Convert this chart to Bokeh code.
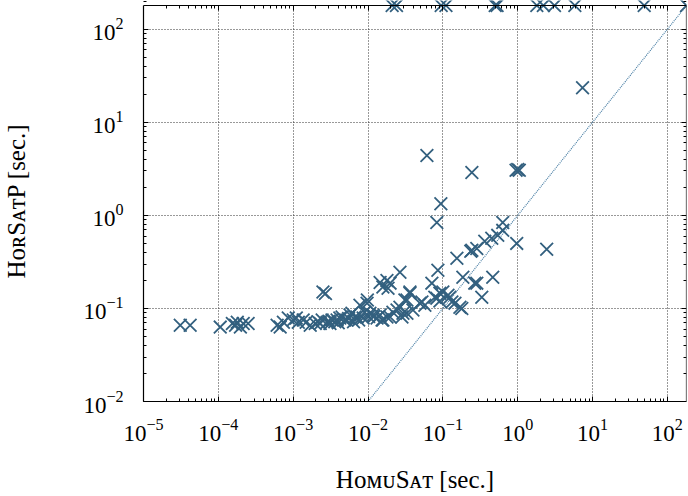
from bokeh.plotting import figure
from bokeh.models import LogAxis, FixedTicker, Range1d
from bokeh.embed import file_html
from bokeh.resources import INLINE

# HomuSat runtime [sec.] (x) vs HorSatP runtime [sec.] (y); 180 = timeout
homusat = [
    3.1e-5, 4.2e-5, 1.06e-4, 1.54e-4, 1.7e-4, 1.79e-4, 1.97e-4, 2.15e-4, 2.5e-4,
    6.1e-4, 6.7e-4, 7.4e-4, 8.6e-4, 1.0e-3, 1.1e-3, 1.17e-3, 1.36e-3, 1.49e-3,
    1.69e-3, 1.97e-3, 2.15e-3, 2.3e-3, 2.44e-3, 2.5e-3, 2.7e-3, 2.84e-3, 3.0e-3,
    3.1e-3, 3.3e-3, 3.6e-3, 3.86e-3, 4.0e-3, 4.2e-3, 4.5e-3, 4.9e-3, 5.2e-3,
    5.5e-3, 5.75e-3, 6.1e-3, 6.4e-3, 6.7e-3, 7.1e-3, 7.5e-3, 7.8e-3, 8.6e-3,
    9.0e-3, 9.7e-3, 0.0102, 0.0106, 0.0117, 0.012,
    0.0145, 0.0158, 0.0179, 0.0185, 0.0197, 0.0267, 0.0363, 0.0525, 0.0311,
    0.0267, 0.0215, 0.0179, 0.0154, 0.0098, 0.0132, 0.0158, 0.0197, 0.0244,
    0.0293, 0.0331, 0.0398, 0.0494, 0.0575, 0.0284, 0.0363, 0.0331, 0.0145,
    0.0858, 0.0713, 0.0912, 0.117, 0.083, 0.132, 0.169, 0.1, 0.124, 0.145,
    0.179, 0.154, 0.185, 0.464, 0.284, 0.331, 0.267, 0.236, 0.244, 0.284,
    0.363, 0.45, 0.541, 0.631, 0.631, 0.97, 2.44, 0.083, 0.094, 0.0612,
    0.244, 0.95, 1.0, 1.05, 7.35, 0.078, 0.0912,
    0.021, 0.024, 0.095, 0.11, 0.5, 0.53, 1.8, 2.2, 3.1, 5.8, 49.0, 180.0,
]
horsatp = [
    0.066, 0.066, 0.063, 0.069, 0.066, 0.071, 0.063, 0.069, 0.069,
    0.066, 0.063, 0.071, 0.079, 0.075, 0.079, 0.071, 0.075, 0.071,
    0.066, 0.069, 0.072, 0.069, 0.075, 0.15, 0.145, 0.071, 0.073,
    0.069, 0.075, 0.072, 0.075, 0.07, 0.079, 0.081, 0.075, 0.075,
    0.078, 0.085, 0.089, 0.072, 0.081, 0.081, 0.075, 0.108, 0.079,
    0.091, 0.114, 0.082, 0.089, 0.085, 0.082,
    0.19, 0.17, 0.2, 0.165, 0.187, 0.245, 0.15, 0.117, 0.123,
    0.103, 0.091, 0.081, 0.075, 0.123, 0.079, 0.075, 0.081, 0.096,
    0.089, 0.089, 0.096, 0.114, 0.108, 0.081, 0.146, 0.123, 0.085,
    0.257, 0.187, 0.146, 0.139, 0.129, 0.117, 0.103, 0.15, 0.132, 0.114,
    0.1, 0.346, 0.216, 0.216, 0.187, 0.132, 0.187, 0.411, 0.421, 0.44,
    0.526, 0.567, 0.61, 0.69, 0.84, 0.5, 0.432, 0.84, 1.33, 4.4,
    2.89, 3.05, 3.11, 3.05, 23.5, 0.132, 0.12,
    180.0, 180.0, 180.0, 180.0, 180.0, 180.0, 180.0, 180.0, 180.0, 180.0, 180.0, 180.0,
]

timeout = 180.0
x_min, y_min = 1e-5, 1e-2
x_exponents = [-5, -4, -3, -2, -1, 0, 1, 2]
y_exponents = [-2, -1, 0, 1, 2]

mark_color = "#33607f"
serif = "Liberation Serif"

x_major = [10.0 ** e for e in x_exponents]
y_major = [10.0 ** e for e in y_exponents]
x_minor = [m * 10.0 ** e for e in x_exponents for m in range(2, 10)]
y_minor = [m * 10.0 ** e for e in y_exponents for m in range(2, 10)]

p = figure(width=688, height=496, x_axis_type="log", y_axis_type="log",
           x_range=Range1d(x_min, timeout), y_range=Range1d(y_min, 203.7),
           output_backend="svg", toolbar_location=None,
           min_border_left=143, min_border_right=2, min_border_top=0,
           min_border_bottom=95)
p.outline_line_color = None
p.background_fill_color = "white"
p.border_fill_color = "white"

def style_axis(ax, labels=True):
    ax.major_tick_in = 5
    ax.major_tick_out = 0
    ax.minor_tick_in = 3
    ax.minor_tick_out = 0
    ax.axis_line_color = "black"
    ax.axis_line_width = 1.2
    ax.major_tick_line_color = "black"
    ax.minor_tick_line_color = "black"
    ax.major_label_text_font = serif
    ax.major_label_text_font_size = "23px"
    ax.major_label_text_color = "black" if labels else None
    ax.axis_label_text_font = serif
    ax.axis_label_text_font_size = "25px"
    ax.axis_label_text_font_style = "normal"
    ax.axis_label_text_color = "black"

xa = p.xaxis[0]
ya = p.yaxis[0]
xa.ticker = FixedTicker(ticks=x_major, minor_ticks=x_minor)
ya.ticker = FixedTicker(ticks=y_major, minor_ticks=y_minor)
style_axis(xa)
style_axis(ya)
ya.bounds = (y_min, timeout)
xa.axis_label = "Hᴏᴍᴜ" + "Sᴀᴛ [sec.]"
ya.axis_label = "Hᴏʀ" + "SᴀᴛP [sec.]"
xa.major_label_standoff = 17
ya.major_label_standoff = 20
xa.axis_label_standoff = 22
ya.axis_label_standoff = 50

top = LogAxis(fixed_location=timeout, ticker=FixedTicker(ticks=x_major, minor_ticks=x_minor),
              bounds=(x_min, timeout))
right = LogAxis(fixed_location=timeout, ticker=FixedTicker(ticks=y_major, minor_ticks=y_minor),
                bounds=(y_min, timeout))
style_axis(top, labels=False)
style_axis(right, labels=False)
p.add_layout(top, "above")
p.add_layout(right, "right")

for g in (p.xgrid[0], p.ygrid[0]):
    g.grid_line_color = "#333333"
    g.grid_line_dash = "1 2"
    g.grid_line_width = 1
p.xgrid[0].ticker = FixedTicker(ticks=x_major)
p.ygrid[0].ticker = FixedTicker(ticks=y_major)

# white mask above the timeout line (hides grid overflow)
p.quad(left=[x_min], right=[timeout], bottom=[timeout], top=[1000.0],
       fill_color="white", line_color=None)

# y = x reference line
diag = [y_min, timeout]
p.line(diag, diag, line_color="#4a7fa5", line_width=1.2, line_dash="1 1")

p.scatter(homusat, horsatp, marker="x", size=18, line_color=mark_color, line_width=1.8)

open("out.html", "w").write(file_html(p, INLINE))
